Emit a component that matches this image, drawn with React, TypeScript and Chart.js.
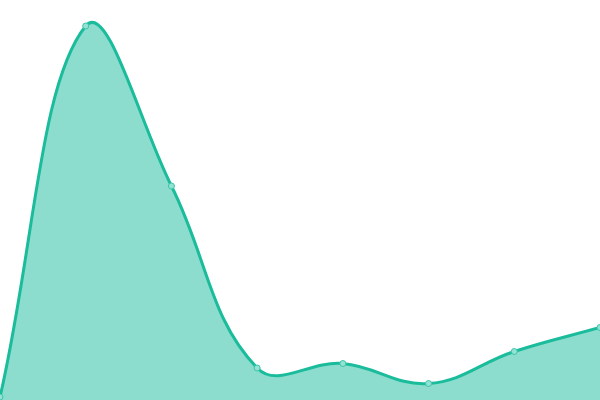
import React, { useEffect, useRef } from "react";
import { Chart, registerables } from "chart.js";

Chart.register(...registerables);

const labels = ["A", "B", "C", "D", "E", "F", "G", "H"];
const values = [3, 374, 214, 32, 36.5, 16.5, 48.5, 72.5];
const yMin = 0;
const yMax = 400;

export default function App() {
  const ref = useRef<HTMLCanvasElement | null>(null);
  useEffect(() => {
    document.body.style.margin = "0";
    const chart = new Chart(ref.current!, {
      type: "line",
      data: {
        labels,
        datasets: [
          {
            data: values,
            borderColor: "#1abc9c",
            backgroundColor: "rgba(26,188,156,0.5)",
            pointBackgroundColor: "#94e2d3",
            pointBorderColor: "#3cc5a8",
            pointRadius: 3,
            pointBorderWidth: 1,
            borderWidth: 3,
            fill: true,
            tension: 0.4,
          },
        ],
      },
      options: {
        animation: false,
        responsive: false,
        layout: { padding: 0, autoPadding: false },
        plugins: { legend: { display: false }, tooltip: { enabled: false } },
        scales: {
          x: { display: false },
          y: { display: false, min: yMin, max: yMax },
        },
      },
    });
    return () => chart.destroy();
  }, []);
  return (
    <div style={{ position: "fixed", left: 0, top: 0, width: 600, height: 400 }}>
      <canvas ref={ref} width={600} height={400} />
    </div>
  );
}
